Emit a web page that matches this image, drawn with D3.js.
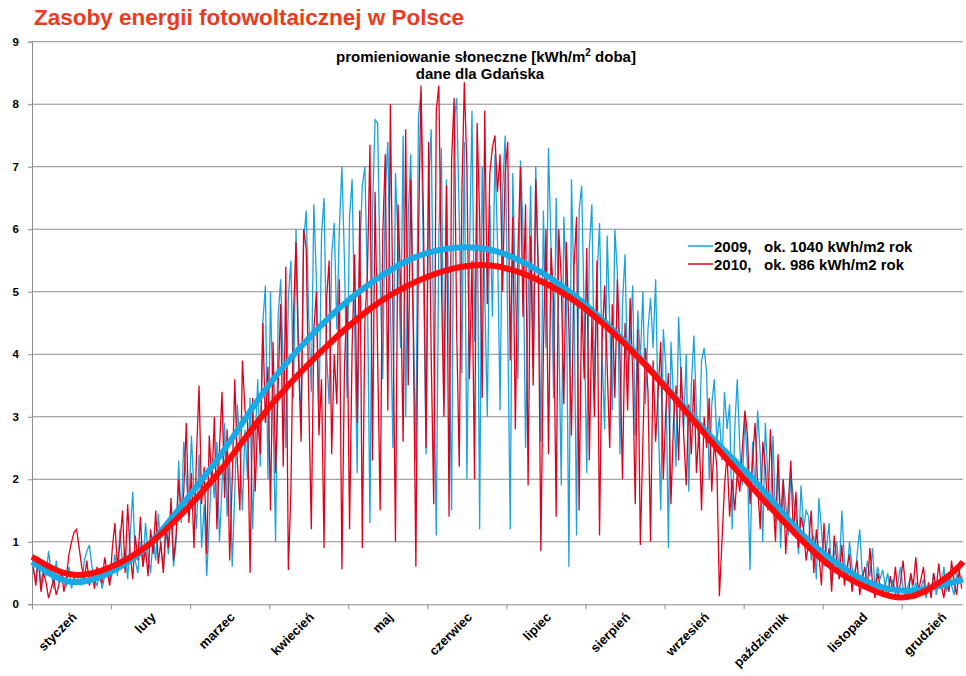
<!DOCTYPE html>
<html>
<head>
<meta charset="utf-8">
<script src="https://d3js.org/d3.v7.min.js"></script>
<style>
  body { margin: 0; background: #fff; }
  text { font-family: "Liberation Sans", Arial, sans-serif; }
</style>
</head>
<body>
<div id="chart"></div>
<script>
// month labels (x axis categories)
var months = ["styczeń", "luty", "marzec", "kwiecień", "maj", "czerwiec",
              "lipiec", "sierpień", "wrzesień", "październik", "listopad", "grudzień"];
var yTicks = [0, 1, 2, 3, 4, 5, 6, 7, 8, 9];

// daily radiation, kWh/m2 per day, month by month
var daily2009 = [
  [0.55,0.4,0.75,0.3,0.62,0.45,0.85,0.5,0.25,0.7,0.35,0.55,0.4,0.3,0.6,0.25,0.45,0.35,0.5,0.3,0.7,0.85,0.95,0.6,0.4,0.3,0.5,0.25,0.45,0.6,0.35],
  [0.5,0.8,0.45,1.2,0.6,0.9,0.4,1.1,1.8,0.7,0.5,1.0,0.6,1.3,0.8,0.5,1.1,0.7,1.45,0.9,0.55,1.2,0.8,1.5,0.6,1.0,2.3,1.3],
  [2.6,2.0,1.5,2.7,1.8,1.2,2.4,0.9,1.6,0.45,1.3,2.2,1.7,2.6,1.0,1.9,2.9,1.4,2.3,0.6,1.8,3.2,2.5,1.5,2.8,2.0,3.3,1.2,2.6,3.6,2.2],
  [4.5,5.1,2.0,5.0,3.1,1.0,4.6,5.2,3.8,2.5,4.9,5.5,3.3,6.0,4.2,2.8,5.8,6.3,4.6,3.4,6.4,5.2,2.9,5.9,6.5,4.0,3.2,5.6,6.1,4.4],
  [6.0,7.0,5.5,3.3,6.2,6.8,4.4,2.1,5.6,6.7,7.0,5.1,1.3,6.3,7.75,7.7,5.2,3.6,6.6,7.4,4.8,2.5,6.9,5.8,4.1,7.5,3.0,6.2,7.2,4.6,2.3],
  [7.8,8.2,5.3,2.4,6.7,7.6,4.0,1.1,5.9,7.3,3.2,6.8,4.5,1.5,7.7,8.1,6.2,3.7,7.4,2.0,5.5,7.9,4.2,6.9,1.2,7.0,5.0,3.0,6.4,4.6],
  [7.2,5.8,3.1,6.6,7.5,4.5,1.2,6.9,5.0,3.6,7.1,6.0,2.5,4.8,6.7,3.8,7.0,5.4,2.6,6.3,4.1,7.3,5.7,3.3,6.5,4.4,1.9,6.2,5.1,0.6,6.8],
  [5.0,1.1,6.3,6.7,4.6,2.1,5.7,6.4,3.5,5.2,6.1,4.0,2.8,5.9,4.5,3.1,6.0,5.3,2.4,4.8,5.6,3.6,4.2,5.1,2.7,4.7,3.9,5.0,3.2,4.4,4.9],
  [4.1,5.2,3.0,1.5,4.4,3.8,0.9,4.2,3.3,2.2,4.6,3.6,2.8,4.0,1.8,3.5,4.3,3.1,2.5,3.9,4.1,3.7,2.0,3.2,3.6,2.6,3.0,2.3,3.4,2.8],
  [3.2,1.2,2.8,3.6,2.5,1.9,3.0,2.2,0.55,2.6,1.8,3.1,2.4,1.0,2.9,2.0,1.5,2.7,1.3,2.3,0.9,2.0,1.6,1.1,2.1,1.7,1.4,0.8,1.9,1.2,1.5],
  [1.4,0.7,1.1,0.4,1.7,1.2,0.6,0.9,1.3,0.3,0.8,1.0,0.5,1.5,0.7,0.4,1.0,0.6,0.35,0.8,1.2,0.5,0.3,0.7,0.45,0.9,0.25,0.6,0.4,0.55],
  [0.3,0.5,0.2,0.4,0.15,0.35,0.6,0.25,0.1,0.3,0.45,0.2,0.35,0.15,0.25,0.4,0.1,0.3,0.2,0.5,0.15,0.35,0.25,0.6,0.2,0.4,0.3,0.15,0.5,0.35,0.45]
];
var daily2010 = [
  [0.6,0.3,0.75,0.2,0.5,0.35,0.1,0.25,0.4,0.15,0.3,0.55,0.2,0.45,0.8,1.0,1.15,1.2,0.9,0.6,0.4,0.7,0.3,0.5,0.25,0.6,0.4,0.35,0.75,0.5,0.3],
  [0.9,1.3,0.6,1.0,1.5,0.5,1.6,0.8,0.4,1.1,0.7,1.4,0.6,0.9,0.45,1.2,0.8,1.5,0.65,1.0,0.5,1.3,0.9,1.7,0.7,1.1,2.0,1.4],
  [1.8,2.9,1.3,2.1,0.9,2.4,3.5,1.6,2.2,0.8,2.7,1.9,3.0,1.2,2.5,3.4,1.7,2.8,0.7,2.0,3.6,2.3,1.5,3.9,3.1,2.9,0.5,3.3,1.8,3.0,2.4],
  [4.5,2.9,3.8,1.5,4.2,2.1,3.5,4.8,2.2,5.4,0.55,1.8,4.6,5.8,3.9,2.6,6.0,5.7,3.3,1.2,4.4,5.0,2.7,3.6,0.9,4.9,5.5,2.4,4.0,3.2],
  [5.2,0.56,3.8,4.9,1.2,4.1,5.6,2.9,6.3,0.9,4.5,5.3,7.35,2.3,6.6,4.0,1.5,5.9,7.2,3.1,8.0,4.7,1.0,6.4,5.1,2.6,7.6,3.5,6.8,4.3,0.6],
  [5.8,8.3,6.1,2.5,7.4,4.0,1.6,7.9,8.3,5.2,3.0,6.7,1.4,7.1,8.1,4.4,2.2,6.5,8.35,7.0,3.6,5.5,2.0,7.7,6.2,3.3,7.9,4.8,6.9,7.3],
  [7.5,6.6,7.2,5.0,6.9,7.4,3.9,6.2,2.8,5.6,7.0,4.6,6.4,1.9,5.9,3.5,6.8,5.3,0.85,4.1,6.0,2.4,5.7,4.8,1.4,6.0,5.2,3.2,5.8,4.4,2.7],
  [5.4,6.2,1.5,4.9,3.6,5.7,2.3,4.6,3.0,5.5,1.1,4.2,5.1,3.8,2.5,4.8,3.3,5.2,4.0,2.0,4.5,3.1,4.9,3.7,1.6,4.4,0.95,2.6,4.1,3.4,1.0],
  [3.9,2.6,3.4,4.2,2.0,3.1,3.7,1.6,2.9,3.5,2.3,3.8,2.7,1.9,3.2,2.4,3.6,2.1,2.8,1.5,3.0,2.5,3.3,1.8,2.6,2.2,0.13,1.0,1.9,2.4],
  [1.4,2.0,1.5,2.1,1.8,2.5,3.1,2.7,1.6,2.3,2.9,1.9,1.2,2.6,2.2,1.5,2.8,1.7,1.0,2.4,1.3,2.0,0.8,1.6,2.3,1.1,1.8,0.9,1.4,1.2,0.7],
  [1.0,1.5,0.5,1.2,0.8,0.3,1.3,0.6,0.9,0.2,1.1,0.7,0.4,0.95,0.3,0.6,0.8,0.2,0.5,0.7,0.15,0.4,0.6,0.25,0.9,0.35,0.1,0.5,0.3,0.2],
  [0.3,0.1,0.45,0.2,0.6,0.15,0.35,0.7,0.25,0.1,0.5,0.3,0.75,0.2,0.4,0.6,0.15,0.35,0.1,0.5,0.25,0.65,0.3,0.1,0.45,0.2,0.7,0.35,0.15,0.55,0.25]
];

var trendDays = [0,15,30,45,60,75,90,105,120,135,150,165,180,195,210,225,240,255,270,285,300,315,330,345,360,365];
var trend2009 = [0.68,0.36,0.50,0.92,1.65,2.45,3.35,4.1,4.72,5.2,5.55,5.7,5.67,5.42,5.02,4.5,3.87,3.18,2.52,1.9,1.2,0.67,0.32,0.22,0.34,0.40];
var trend2010 = [0.76,0.48,0.58,0.93,1.5,2.2,3.0,3.7,4.3,4.8,5.15,5.37,5.42,5.25,4.93,4.45,3.85,3.15,2.43,1.75,1.1,0.55,0.22,0.13,0.48,0.68];

var legendLabels = ["2009,   ok. 1040 kWh/m2 rok", "2010,   ok. 986 kWh/m2 rok"];

function init(){
	var w = 966, h = 676;
	var blueThin = "#1aa3dd", blueThick = "#19aae6";
	var redThin = "#e0001b", redThick = "#ff0a0a";

	var svg = d3.select("#chart").append("svg")
		.attr("width", w).attr("height", h);

	var xScale = d3.scaleLinear().domain([0, 365]).range([32, 963]);
	var yScale = d3.scaleLinear().domain([0, 9]).range([604.3, 41.7]);

	// title
	svg.append("text")
		.attr("x", 34).attr("y", 25)
		.attr("font-size", 22.5).attr("font-weight", "bold")
		.attr("fill", "#ec3a1c")
		.text("Zasoby energii fotowoltaicznej w Polsce");

	// grid
	svg.selectAll("line.grid")
		.data(yTicks.slice(1))
		.enter().append("line")
		.attr("class", "grid")
		.attr("x1", 32).attr("x2", 963)
		.attr("y1", function(d){ return yScale(d); })
		.attr("y2", function(d){ return yScale(d); })
		.attr("stroke", "#8c8c8c").attr("stroke-width", 1);

	// y axis
	var yAxis = d3.axisLeft(yScale).tickValues(yTicks).tickSize(4).tickPadding(9);
	var gy = svg.append("g").attr("transform", "translate(32,0)").call(yAxis);
	gy.select(".domain").attr("stroke", "#8c8c8c");
	gy.selectAll(".tick line").attr("stroke", "#8c8c8c");
	gy.selectAll("text").attr("font-size", 11.5).attr("font-weight", "bold")
		.attr("fill", "#000").attr("font-family", "Liberation Sans, Arial, sans-serif");

	// x axis: ticks every 31 days, labels between ticks
	var tickDays = months.map(function(m, i){ return i * 31; });
	var xAxis = d3.axisBottom(xScale).tickValues(tickDays).tickSize(5).tickFormat("");
	var gx = svg.append("g").attr("transform", "translate(0,604.3)").call(xAxis);
	gx.select(".domain").attr("stroke", "#8c8c8c").attr("d", "M32,0.5H963");
	gx.selectAll(".tick line").attr("stroke", "#8c8c8c");

	svg.selectAll("text.month")
		.data(months)
		.enter().append("text")
		.attr("class", "month")
		.attr("font-size", 13).attr("font-weight", "bold")
		.attr("text-anchor", "end")
		.attr("transform", function(d, i){
			var x = xScale(i * 31 + 15.5) + 6;
			return "translate(" + x + ",618) rotate(-45)";
		})
		.text(function(d){ return d; });

	// daily lines
	var flat09 = d3.merge(daily2009);
	var flat10 = d3.merge(daily2010);
	var line = d3.line()
		.x(function(d, i){ return xScale(i + 0.5); })
		.y(function(d){ return yScale(d); });

	svg.append("path").datum(flat09)
		.attr("d", line).attr("fill", "none")
		.attr("stroke", blueThin).attr("stroke-width", 1.3);
	svg.append("path").datum(flat10)
		.attr("d", line).attr("fill", "none")
		.attr("stroke", redThin).attr("stroke-width", 1.3);

	// trend lines
	var trend = d3.line()
		.x(function(d){ return xScale(d[0]); })
		.y(function(d){ return yScale(d[1]); })
		.curve(d3.curveNatural);

	svg.append("path").datum(d3.zip(trendDays, trend2009))
		.attr("d", trend).attr("fill", "none")
		.attr("stroke", blueThick).attr("stroke-width", 6);
	svg.append("path").datum(d3.zip(trendDays, trend2010))
		.attr("d", trend).attr("fill", "none")
		.attr("stroke", redThick).attr("stroke-width", 6);

	// subtitle
	var sub = svg.append("text")
		.attr("x", 486).attr("y", 62)
		.attr("text-anchor", "middle")
		.attr("font-size", 15).attr("font-weight", "bold");
	sub.append("tspan").text("promieniowanie słoneczne [kWh/m");
	sub.append("tspan").attr("font-size", 10).attr("dy", -6).text("2");
	sub.append("tspan").attr("dy", 6).text(" doba]");
	svg.append("text")
		.attr("x", 480).attr("y", 79)
		.attr("text-anchor", "middle")
		.attr("font-size", 15).attr("font-weight", "bold")
		.text("dane dla Gdańska");

	// legend
	var legColors = [blueThin, redThin];
	var leg = svg.selectAll("g.leg")
		.data(legendLabels)
		.enter().append("g")
		.attr("class", "leg")
		.attr("transform", function(d, i){ return "translate(688," + (246 + i * 18) + ")"; });
	leg.append("line")
		.attr("x1", 0).attr("x2", 25)
		.attr("stroke", function(d, i){ return legColors[i]; })
		.attr("stroke-width", 1.5);
	leg.append("text")
		.attr("x", 26).attr("y", 5.5)
		.attr("font-size", 15).attr("font-weight", "bold")
		.style("white-space", "pre")
		.text(function(d){ return d; });
}

window.onload = init;
</script>
</body>
</html>
